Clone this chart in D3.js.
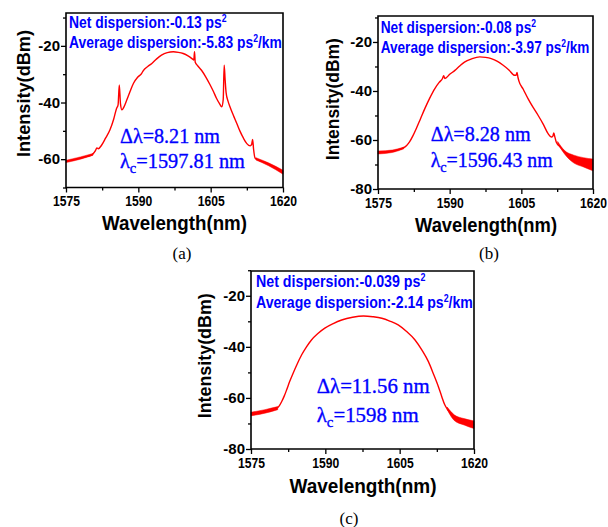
<!DOCTYPE html>
<html>
<head>
<meta charset="utf-8">
<script src="https://cdn.jsdelivr.net/npm/d3@7"></script>
<style>
  body { margin: 0; background: #fff; }
  svg { display: block; }
</style>
</head>
<body>
<svg id="fig" width="608" height="527"></svg>
<script>
// ---------------- data ----------------
const xTickValues = [1575, 1590, 1605, 1620];
const xMinorTicks = [1582.5, 1597.5, 1612.5];

// (a) net dispersion -0.13 ps^2
const wavelengthA = [1575.0, 1576.5, 1578.0, 1579.5, 1580.5, 1581.1, 1581.4, 1581.7, 1582.4, 1583.2,
  1584.1, 1584.9, 1585.5, 1585.8, 1586.05, 1586.3, 1586.6, 1587.0, 1587.6, 1588.3,
  1589.0, 1589.9, 1590.7, 1591.0, 1592.0, 1592.8, 1593.8, 1594.8, 1596.0, 1597.25,
  1598.3, 1599.3, 1600.3, 1601.2, 1601.5, 1601.65, 1601.8, 1602.2, 1603.1, 1604.0,
  1604.9, 1605.6, 1606.2, 1606.8, 1607.3, 1607.6, 1607.8, 1608.0, 1608.2, 1608.6,
  1609.0, 1609.7, 1610.4, 1611.1, 1611.8, 1612.5, 1613.2, 1613.5, 1613.7, 1613.9,
  1614.2, 1615.0, 1616.0, 1616.6, 1617.5, 1618.5, 1619.3, 1620.0];
const intensityA = [-60.8, -60.2, -59.6, -59.0, -58.3, -57.0, -56.0, -56.3, -55.0, -52.6,
  -49.7, -45.8, -42.0, -40.8, -33.8, -40.5, -42.6, -41.6, -39.1, -36.0,
  -33.2, -31.0, -29.7, -28.8, -27.2, -26.2, -24.6, -23.3, -22.4, -22.1,
  -22.3, -22.7, -23.5, -24.6, -25.0, -22.1, -25.8, -26.8, -28.6, -31.0,
  -33.8, -36.2, -38.5, -40.3, -41.5, -39.0, -26.8, -32.0, -36.5, -39.5,
  -41.5, -44.5, -47.3, -50.2, -52.6, -54.5, -55.3, -54.8, -53.0, -56.5,
  -59.6, -60.4, -61.0, -61.4, -62.2, -63.0, -63.8, -64.6];
// noisy tails: [wavelength, lower, upper]
const noiseA = [
  [[1575.0, -61.2, -60.4], [1578.0, -60.0, -59.2], [1580.6, -58.6, -58.0]],
  [[1614.4, -60.3, -59.5], [1617.0, -62.3, -61.3], [1620.0, -65.3, -63.9]]
];

// (b) net dispersion -0.08 ps^2
const wavelengthB = [1575.0, 1576.5, 1577.8, 1579.0, 1580.2, 1581.0, 1581.6, 1582.3, 1583.0, 1583.9,
  1584.8, 1585.8, 1586.9, 1587.8, 1588.5, 1588.75, 1589.0, 1590.0, 1591.1, 1592.1,
  1593.1, 1594.6, 1596.3, 1597.5, 1598.7, 1600.0, 1601.2, 1602.4, 1603.6, 1603.9,
  1604.1, 1604.3, 1604.5, 1605.4, 1606.4, 1607.4, 1608.5, 1609.6, 1610.6, 1611.3,
  1611.6, 1611.8, 1612.0, 1612.3, 1613.2, 1614.1, 1615.2, 1616.2, 1617.5, 1618.7, 1620.0];
const intensityB = [-65.1, -64.9, -64.6, -64.1, -63.3, -62.2, -60.8, -58.3, -55.4, -51.3,
  -47.2, -43.0, -39.0, -36.5, -34.9, -33.8, -34.9, -33.2, -31.6, -29.8,
  -28.2, -26.9, -26.1, -26.3, -26.8, -27.9, -29.5, -31.4, -33.6, -33.6,
  -32.4, -34.5, -36.0, -39.3, -43.1, -46.5, -49.9, -53.6, -57.4, -58.8,
  -58.4, -57.1, -58.6, -60.8, -63.0, -64.9, -66.4, -67.6, -68.4, -69.1, -69.8];
const noiseB = [
  [[1575.0, -65.7, -64.5], [1578.0, -65.1, -64.1], [1580.4, -63.6, -62.9]],
  [[1612.6, -61.4, -60.6], [1614.0, -65.6, -64.2], [1616.0, -69.4, -66.2], [1618.0, -71.0, -67.2], [1620.0, -72.6, -67.8]]
];

// (c) net dispersion -0.039 ps^2
const wavelengthC = [1575.0, 1576.4, 1577.8, 1579.0, 1580.2, 1580.7, 1581.2, 1581.7, 1582.2, 1582.8,
  1583.5, 1584.3, 1585.2, 1586.2, 1587.2, 1588.5, 1589.9, 1591.6, 1593.3, 1595.5,
  1597.7, 1599.6, 1601.4, 1603.0, 1604.7, 1606.4, 1608.1, 1609.5, 1610.8, 1611.8,
  1612.8, 1613.5, 1614.1, 1614.8, 1615.5, 1616.5, 1617.5, 1618.8, 1620.0];
const intensityC = [-66.3, -65.8, -65.3, -64.7, -64.0, -63.1, -61.4, -59.3, -56.8, -53.6,
  -50.3, -46.8, -43.2, -40.0, -37.3, -34.8, -32.7, -30.9, -29.5, -28.4,
  -27.9, -28.2, -28.8, -29.9, -31.4, -34.0, -37.3, -41.3, -45.8, -50.5,
  -55.5, -59.5, -62.7, -64.9, -66.6, -67.7, -68.6, -69.6, -70.5];
const noiseC = [
  [[1575.0, -67.0, -65.6], [1577.8, -66.0, -64.6], [1580.4, -64.6, -63.4]],
  [[1614.6, -64.6, -63.6], [1616.0, -68.8, -66.6], [1618.0, -70.6, -68.1], [1620.0, -72.0, -69.0]]
];

const netDispersion = ["-0.13", "-0.08", "-0.039"];
const avgDispersion = ["-5.83", "-3.97", "-2.14"];
const bandwidth = ["8.21", "8.28", "11.56"];
const centerWavelength = ["1597.81", "1596.43", "1598"];
const captions = ["(a)", "(b)", "(c)"];

// ---------------- layout ----------------
const panels = [
  { wl: wavelengthA, db: intensityA, noise: noiseA, yDomain: [-70, -8.4],
    yMajor: [-60, -40, -20], yMinor: [-70, -50, -30, -10],
    box: { l: 66, r: 283, t: 13, b: 187.5 },
    disp: { x: 69, y1: 28.3, y2: 48.3, w1: 158, w2: 213 },
    ann: { x: 120, y1: 143.3, y2: 168.3, w1: 100, w2: 125 },
    xlab: { x: 174.5, y: 229.5, w: 145 }, ylab: { x: 29.5, y: 93.5, w: 127 },
    cap: { x: 182, y: 258.5 } },
  { wl: wavelengthB, db: intensityB, noise: noiseB, yDomain: [-80, -9.4],
    yMajor: [-80, -60, -40, -20], yMinor: [-70, -50, -30, -10],
    box: { l: 378, r: 593, t: 16, b: 189 },
    disp: { x: 380.7, y1: 33.3, y2: 53.3, w1: 156, w2: 209 },
    ann: { x: 430.7, y1: 141, y2: 167, w1: 100, w2: 122 },
    xlab: { x: 486, y: 232, w: 142 }, ylab: { x: 339, y: 99.2, w: 122 },
    cap: { x: 489, y: 258.5 } },
  { wl: wavelengthC, db: intensityC, noise: noiseC, yDomain: [-80, -10.3],
    yMajor: [-80, -60, -40, -20], yMinor: [-70, -50, -30, -10],
    box: { l: 251, r: 474, t: 271, b: 449 },
    disp: { x: 256, y1: 286.7, y2: 308.3, w1: 170, w2: 217 },
    ann: { x: 316.7, y1: 393.3, y2: 421.7, w1: 113, w2: 102 },
    xlab: { x: 363, y: 493, w: 147 }, ylab: { x: 211, y: 355.8, w: 125 },
    cap: { x: 349, y: 523.5 } }
];

const svg = d3.select("#fig");
svg.append("rect").attr("width", 608).attr("height", 527).attr("fill", "#fff");

const SANS = "'Liberation Sans', Arial, Helvetica, sans-serif";
const SERIF = "'Liberation Serif', 'Times New Roman', serif";

// squeeze a group horizontally to a given width around its anchor
function fitWidth(sel, target) {
  const w = sel.node().getBBox().width;
  if (w > 0) sel.attr("transform", sel.attr("transform") + ` scale(${target / w},1)`);
}

panels.forEach((p, i) => {
  const x = d3.scaleLinear().domain([1575, 1620]).range([p.box.l, p.box.r]);
  const y = d3.scaleLinear().domain(p.yDomain).range([p.box.b, p.box.t]);
  const g = svg.append("g");

  // noisy tails
  const band = d3.area().x(d => x(d[0])).y0(d => y(d[1])).y1(d => y(d[2])).curve(d3.curveMonotoneX);
  p.noise.forEach(seg => {
    g.append("path").attr("d", band(seg)).attr("fill", "#ff0000").attr("stroke", "#ff0000")
      .attr("stroke-width", 0.5);
  });

  // spectrum
  const pts = p.wl.map((w, k) => [w, p.db[k]]);
  const line = d3.line().x(d => x(d[0])).y(d => y(d[1])).curve(d3.curveMonotoneX);
  g.append("path").attr("d", line(pts)).attr("fill", "none")
    .attr("stroke", "#ff0000").attr("stroke-width", 1.4).attr("stroke-linejoin", "round");

  // plot frame: a filled ring between an outer and inner rectangle
  const [fx0, fx1] = x.range();
  const [fyb, fyt] = y.range();
  const h = 0.8;
  const ring = d3.path();
  ring.rect(fx0 - h, fyt - h, fx1 - fx0 + 2 * h, fyb - fyt + 2 * h);
  ring.moveTo(fx0 + h, fyt + h);
  ring.lineTo(fx0 + h, fyb - h);
  ring.lineTo(fx1 - h, fyb - h);
  ring.lineTo(fx1 - h, fyt + h);
  ring.closePath();
  g.append("path").attr("d", ring.toString()).attr("fill", "#000").attr("fill-rule", "evenodd");

  // axes with outward ticks
  const xa = g.append("g").attr("transform", `translate(0,${p.box.b})`)
    .call(d3.axisBottom(x).tickValues(xTickValues).tickSize(5).tickSizeOuter(0)
      .tickPadding(3).tickFormat(d3.format("d")));
  const xm = g.append("g").attr("transform", `translate(0,${p.box.b})`)
    .call(d3.axisBottom(x).tickValues(xMinorTicks).tickSize(3).tickSizeOuter(0).tickFormat(""));
  const ya = g.append("g").attr("transform", `translate(${p.box.l},0)`)
    .call(d3.axisLeft(y).tickValues(p.yMajor).tickSize(5).tickSizeOuter(0)
      .tickPadding(1).tickFormat(d3.format("d")));
  const ym = g.append("g").attr("transform", `translate(${p.box.l},0)`)
    .call(d3.axisLeft(y).tickValues(p.yMinor).tickSize(3).tickSizeOuter(0).tickFormat(""));

  [xa, xm, ya, ym].forEach(a => {
    a.select(".domain").remove();
    a.attr("font-size", 15).attr("font-family", SANS).attr("font-weight", "bold");
    a.selectAll("line").attr("stroke", "#000").attr("stroke-width", 1.3);
  });
  xa.selectAll("text").attr("fill", "#000")
    .attr("textLength", 27).attr("lengthAdjust", "spacingAndGlyphs");
  ya.selectAll("text").attr("fill", "#000").text(d => String(d));

  // axis titles
  g.append("text").attr("x", p.xlab.x).attr("y", p.xlab.y).attr("text-anchor", "middle")
    .attr("font-family", SANS).attr("font-weight", "bold").attr("font-size", 20).attr("fill", "#000")
    .attr("textLength", p.xlab.w).attr("lengthAdjust", "spacingAndGlyphs").text("Wavelength(nm)");
  g.append("text").attr("transform", `translate(${p.ylab.x},${p.ylab.y}) rotate(-90)`)
    .attr("text-anchor", "middle").attr("font-family", SANS).attr("font-weight", "bold")
    .attr("font-size", 19).attr("fill", "#000")
    .attr("textLength", p.ylab.w).attr("lengthAdjust", "spacingAndGlyphs")
    .text("Intensity(dBm)");

  // dispersion labels
  const d1 = g.append("g").attr("transform", `translate(${p.disp.x},${p.disp.y1})`);
  const t1 = d1.append("text").attr("font-family", SANS).attr("font-weight", "bold")
    .attr("font-size", 16).attr("fill", "#0000ff");
  t1.append("tspan").text(`Net dispersion:${netDispersion[i]} ps`);
  t1.append("tspan").attr("font-size", 10).attr("dy", -6).text("2");
  fitWidth(d1, p.disp.w1);

  const d2 = g.append("g").attr("transform", `translate(${p.disp.x},${p.disp.y2})`);
  const t2 = d2.append("text").attr("font-family", SANS).attr("font-weight", "bold")
    .attr("font-size", 16).attr("fill", "#0000ff");
  t2.append("tspan").text(`Average dispersion:${avgDispersion[i]} ps`);
  t2.append("tspan").attr("font-size", 10).attr("dy", -6).text("2");
  t2.append("tspan").attr("dy", 6).text("/km");
  fitWidth(d2, p.disp.w2);

  // bandwidth and centre wavelength
  const a1 = g.append("g").attr("transform", `translate(${p.ann.x},${p.ann.y1})`);
  a1.append("text").attr("font-family", SERIF).attr("font-size", 21).attr("fill", "#0000ff")
    .attr("stroke", "#0000ff").attr("stroke-width", 0.35)
    .text(`Δλ=${bandwidth[i]} nm`);
  fitWidth(a1, p.ann.w1);
  const a2 = g.append("g").attr("transform", `translate(${p.ann.x},${p.ann.y2})`);
  const t4 = a2.append("text").attr("font-family", SERIF).attr("font-size", 21).attr("fill", "#0000ff")
    .attr("stroke", "#0000ff").attr("stroke-width", 0.35);
  t4.append("tspan").text("λ");
  t4.append("tspan").attr("font-size", 15).attr("dy", 5).text("c");
  t4.append("tspan").attr("dy", -5).text(`=${centerWavelength[i]} nm`);
  fitWidth(a2, p.ann.w2);

  // caption
  g.append("text").attr("x", p.cap.x).attr("y", p.cap.y).attr("text-anchor", "middle")
    .attr("font-family", SERIF).attr("font-size", 17).attr("fill", "#000").text(captions[i]);
});
</script>
</body>
</html>
